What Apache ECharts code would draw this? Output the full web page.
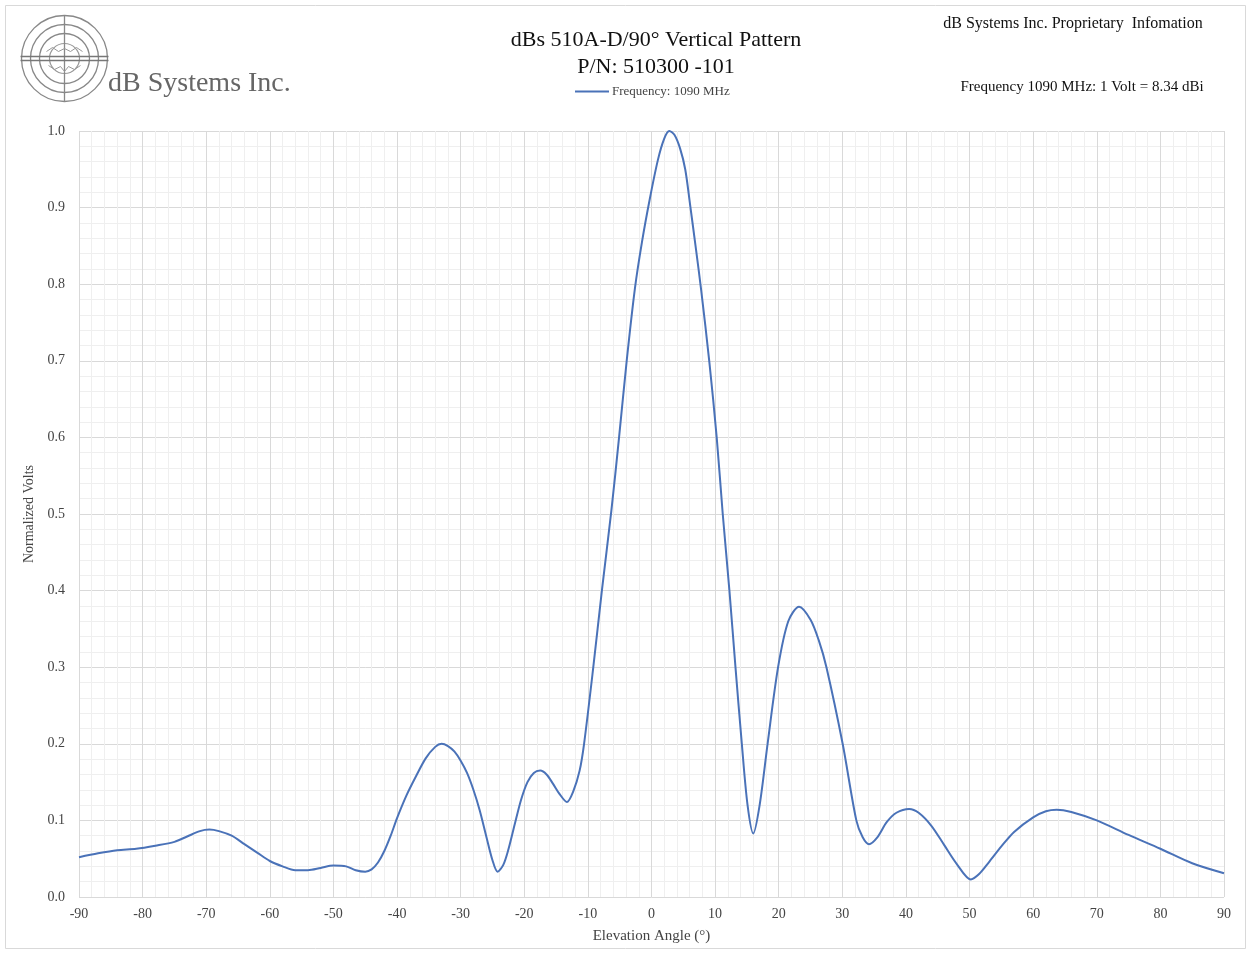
<!DOCTYPE html>
<html><head><meta charset="utf-8">
<script src="https://cdn.jsdelivr.net/npm/echarts@6/dist/echarts.min.js"></script>
<style>html,body{margin:0;padding:0;background:#fff}#c{width:1251px;height:953px}</style>
</head><body><div id="c"></div>
<script>
const angles = [-90,-87,-84,-81,-78,-75,-73,-71,-69.5,-68,-66,-64,-62,-60,-58,-56,-54,-52,-50,-48,-46.5,-45,-44,-43,-42,-41,-40,-38.5,-37,-35.5,-34,-33,-32,-31,-30,-29,-28,-27,-26,-25,-24.2,-23.3,-22.5,-21.5,-20.5,-19.5,-18.5,-17.5,-16.5,-15.5,-14.5,-13.3,-12.3,-11.3,-10.6,-9.15,-7.8,-6.3,-5.1,-3.9,-2.6,-1.5,-0.3,1,2,2.8,3.6,4.5,5.3,6.05,7,7.8,9.1,10.25,11.2,12.25,13.2,14.2,15.1,16,17,18.25,19.9,21.5,23.2,25,26.3,27.5,30.05,32.2,33.2,34.2,35.5,37,38.5,40.5,42,44,46,48,50.2,51.5,53,55,57,60,62,63.7,66,70,75,80,85,90];
const volts  = [0.052,0.057,0.061,0.063,0.067,0.072,0.079,0.086,0.088,0.086,0.080,0.069,0.058,0.047,0.040,0.035,0.035,0.038,0.041,0.040,0.035,0.033,0.036,0.045,0.060,0.080,0.103,0.133,0.158,0.181,0.196,0.200,0.197,0.190,0.178,0.162,0.140,0.113,0.080,0.048,0.033,0.042,0.062,0.095,0.127,0.150,0.162,0.165,0.160,0.148,0.135,0.124,0.138,0.165,0.200,0.300,0.400,0.505,0.600,0.700,0.795,0.855,0.910,0.962,0.990,1.000,0.995,0.977,0.950,0.905,0.845,0.793,0.698,0.600,0.500,0.400,0.300,0.200,0.120,0.083,0.120,0.200,0.300,0.360,0.379,0.362,0.335,0.300,0.200,0.100,0.078,0.069,0.078,0.098,0.110,0.115,0.110,0.093,0.068,0.043,0.023,0.030,0.045,0.066,0.085,0.104,0.112,0.114,0.111,0.100,0.081,0.063,0.044,0.031];
const xTicks = [-90,90,10];
const yTicks = [0,1,0.1];
const seriesName = 'Frequency: 1090 MHz';

const serif = 'Liberation Serif, Times New Roman, serif';
const chart = echarts.init(document.getElementById('c'));
const pts = angles.map((a,i)=>[a,volts[i]]);
chart.setOption({
  backgroundColor:'#fff',
  animation:false,
  title:[
    {text:'dBs 510A-D/90° Vertical Pattern\nP/N: 510300 -101',left:651,textAlign:'center',top:22,
     textStyle:{fontFamily:serif,fontSize:22,fontWeight:'normal',color:'#111',lineHeight:27}},
    {text:'dB Systems Inc. Proprietary  Infomation',left:1068,textAlign:'center',top:11,
     textStyle:{fontFamily:serif,fontSize:16,fontWeight:'normal',color:'#111'}},
    {text:'Frequency 1090 MHz: 1 Volt = 8.34 dBi',left:1077,textAlign:'center',top:75,
     textStyle:{fontFamily:serif,fontSize:15,fontWeight:'normal',color:'#111'}}
  ],
  legend:{data:[seriesName],left:570,top:80,itemWidth:34,itemHeight:2,itemGap:0,
    icon:'rect',textStyle:{fontFamily:serif,fontSize:13,color:'#444',padding:[0,0,0,-2]}},
  grid:{left:79,right:27,top:131,bottom:56},
  xAxis:{type:'value',min:xTicks[0],max:xTicks[1],interval:xTicks[2],
    name:'Elevation Angle (°)',nameLocation:'middle',nameGap:32,
    nameTextStyle:{fontFamily:serif,fontSize:15,color:'#444'},
    axisLine:{show:false},axisTick:{show:false},
    axisLabel:{fontFamily:serif,fontSize:14,color:'#444',margin:10},
    splitLine:{lineStyle:{color:'#d9d9d9',width:1}},
    minorTick:{show:false,splitNumber:5},
    minorSplitLine:{show:true,lineStyle:{color:'#efefef',width:1}}},
  yAxis:{type:'value',min:yTicks[0],max:yTicks[1],interval:yTicks[2],
    name:'Normalized Volts',nameLocation:'middle',nameGap:43,
    nameTextStyle:{fontFamily:serif,fontSize:14,color:'#444'},
    axisLine:{show:false},axisTick:{show:false},
    axisLabel:{fontFamily:serif,fontSize:14,color:'#444',margin:14,formatter:v=>v.toFixed(1)},
    splitLine:{lineStyle:{color:'#d9d9d9',width:1}},
    minorTick:{show:false,splitNumber:5},
    minorSplitLine:{show:true,lineStyle:{color:'#efefef',width:1}}},
  series:[{name:seriesName,type:'line',data:pts,smooth:0.3,showSymbol:false,
    lineStyle:{color:'#4a72b8',width:2},itemStyle:{color:'#4a72b8'}}],
  graphic:[
    {type:'rect',shape:{x:5.5,y:5.5,width:1240,height:943},style:{fill:null,stroke:'#d9d9d9',lineWidth:1},silent:true},
    {type:'group',left:18,top:13,children:[
      {type:'circle',shape:{cx:44,cy:43,r:43},style:{fill:null,stroke:'#888',lineWidth:1.3}},
      {type:'circle',shape:{cx:44,cy:43,r:34},style:{fill:null,stroke:'#888',lineWidth:1.3}},
      {type:'circle',shape:{cx:44,cy:43,r:25},style:{fill:null,stroke:'#888',lineWidth:1.3}},
      {type:'circle',shape:{cx:44,cy:43,r:15},style:{fill:null,stroke:'#999',lineWidth:1.2}},
      {type:'line',shape:{x1:44,y1:0,x2:44,y2:86},style:{stroke:'#888',lineWidth:1.3}},
      {type:'line',shape:{x1:0,y1:41,x2:88,y2:41},style:{stroke:'#777',lineWidth:1.3}},
      {type:'line',shape:{x1:0,y1:45,x2:88,y2:45},style:{stroke:'#777',lineWidth:1.3}},
      {type:'polyline',shape:{points:[[26,36],[32,32],[38,36],[44,33],[50,36],[56,32],[62,36]]},style:{fill:null,stroke:'#999',lineWidth:1}},
      {type:'polyline',shape:{points:[[28,50],[34,54],[40,51],[44,56],[48,51],[54,54],[60,50]]},style:{fill:null,stroke:'#999',lineWidth:1}}
    ]},
    {type:'text',left:108,top:70,style:{text:'dB Systems Inc.',fontFamily:serif,fontSize:28,fill:'#666'}}
  ]
});
</script></body></html>
